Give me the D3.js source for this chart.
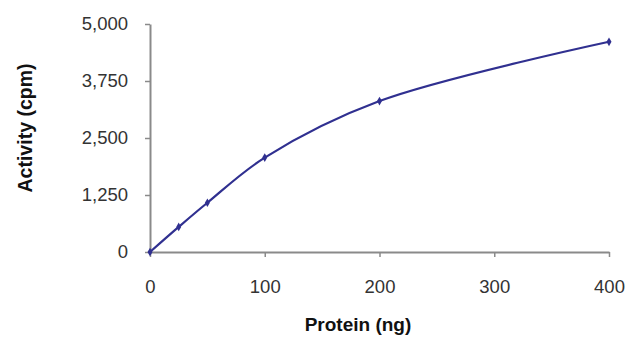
<!DOCTYPE html>
<html><head><meta charset="utf-8">
<script src="https://cdn.jsdelivr.net/npm/d3@7"></script>
<style>body{margin:0;background:#fff}svg{display:block}</style>
</head><body>
<script>
const protein = [0, 25, 50, 100, 200, 400];
const activity = [0, 550, 1080, 2070, 3310, 4610];
const xTicks = [0, 100, 200, 300, 400];
const yTicks = [0, 1250, 2500, 3750, 5000];
const xTitle = "Protein (ng)";
const yTitle = "Activity (cpm)";

const W = 640, H = 347;
const svg = d3.select("body").append("svg").attr("width", W).attr("height", H);
const x = d3.scaleLinear().domain([0, 400]).range([150, 609]);
const y = d3.scaleLinear().domain([0, 5000]).range([252, 24]);
const font = "Arial, 'Liberation Sans', sans-serif";
const axisColor = "#8a8a8a";

const gx = svg.append("g").attr("transform", `translate(0,${y(0)})`)
  .call(d3.axisBottom(x).tickValues(xTicks).tickSize(5).tickSizeOuter(0).tickPadding(23));
const gy = svg.append("g").attr("transform", `translate(${x(0)},0)`)
  .call(d3.axisLeft(y).tickValues(yTicks).tickSize(5).tickSizeOuter(0).tickPadding(17)
    .tickFormat(d3.format(",")));
[gx, gy].forEach(g => {
  g.selectAll(".domain").attr("stroke", axisColor).attr("stroke-width", 2);
  g.selectAll(".tick line").attr("stroke", axisColor).attr("stroke-width", 1.5);
  g.selectAll(".tick text").attr("fill", "#333").style("font-family", font).style("font-size", "18.5px");
});

const data = protein.map((p, i) => ({p, a: activity[i]}));
svg.append("path").datum(data)
  .attr("fill", "none").attr("stroke", "#303090").attr("stroke-width", 2.2)
  .attr("d", d3.line().x(d => x(d.p)).y(d => y(d.a)).curve(d3.curveCatmullRom.alpha(0.5)));
svg.selectAll(".m").data(data).enter().append("path")
  .attr("transform", d => `translate(${x(d.p)},${y(d.a)})`)
  .attr("d", d3.symbol(d3.symbolDiamond, 22)())
  .attr("fill", "#303090");

svg.append("text").attr("x", 358).attr("y", 331).attr("text-anchor", "middle")
  .style("font-family", font).style("font-weight", "bold").style("font-size", "19px")
  .attr("fill", "#111").text(xTitle);
svg.append("text").attr("transform", "translate(32,128) rotate(-90)").attr("text-anchor", "middle")
  .style("font-family", font).style("font-weight", "bold").style("font-size", "19.5px")
  .attr("fill", "#111").text(yTitle);
</script>
</body></html>
